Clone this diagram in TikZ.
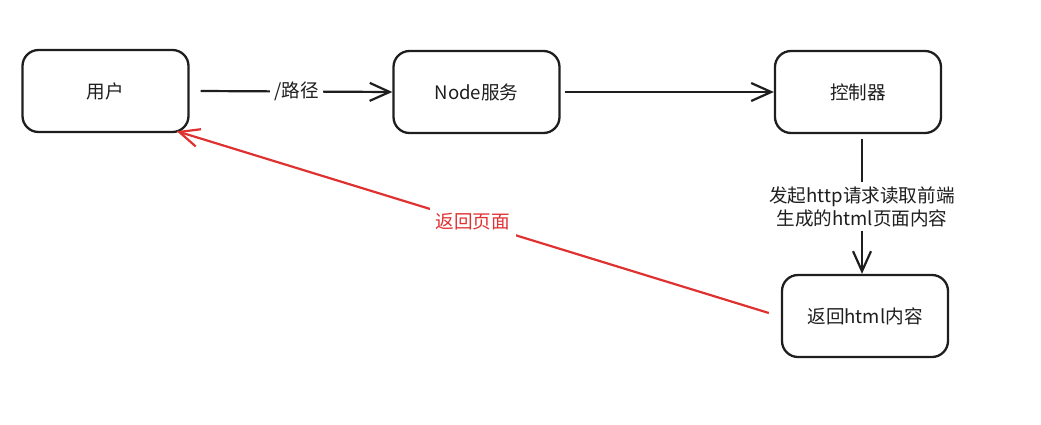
\documentclass[tikz,border=0pt]{standalone}
\usepackage{fontspec}
\setmainfont{Noto Sans CJK SC}
\usetikzlibrary{positioning,arrows.meta}
\definecolor{ink}{HTML}{1E1E1E}
\definecolor{redline}{HTML}{E03131}

\begin{document}
\begin{tikzpicture}[x=1pt, y=-1pt, font=\fontsize{18.6}{23}\selectfont,
	box/.style={draw=ink, line width=2.3pt, rounded corners=16pt, minimum width=166pt, minimum height=82pt, align=center, text=ink},
	arr/.style={draw=ink, line width=2.2pt, -{Straight Barb[length=20pt, width=18pt, line width=2.2pt]}},
	lbl/.style={fill=white, inner sep=4pt, align=center, text=ink}]
	\useasboundingbox (0,0) rectangle (1041,424);
	\node[box] (U) at (105.5,91) {用户};
	\node[box] (N) at (476.5,92) {Node服务};
	\node[box] (C) at (858,92) {控制器};
	\node[box] (H) at (865,316) {返回html内容};
	\draw[arr] ([xshift=11pt]U.east) -- node[lbl] {/路径} (N.west);
	\draw[arr] ([xshift=4pt]N.east) -- (C.west);
	\draw[arr] ([xshift=4pt,yshift=-5pt]C.south) -- node[lbl] {发起http请求读取前端\\生成的html页面内容} ([xshift=-3pt]H.north);
	\draw[arr, draw=redline] ([xshift=-12pt,yshift=3pt]H.west) -- node[lbl, text=redline, inner sep=6pt] {返回页面} ([xshift=-13pt,yshift=2pt]U.south east);
\end{tikzpicture}
\end{document}
